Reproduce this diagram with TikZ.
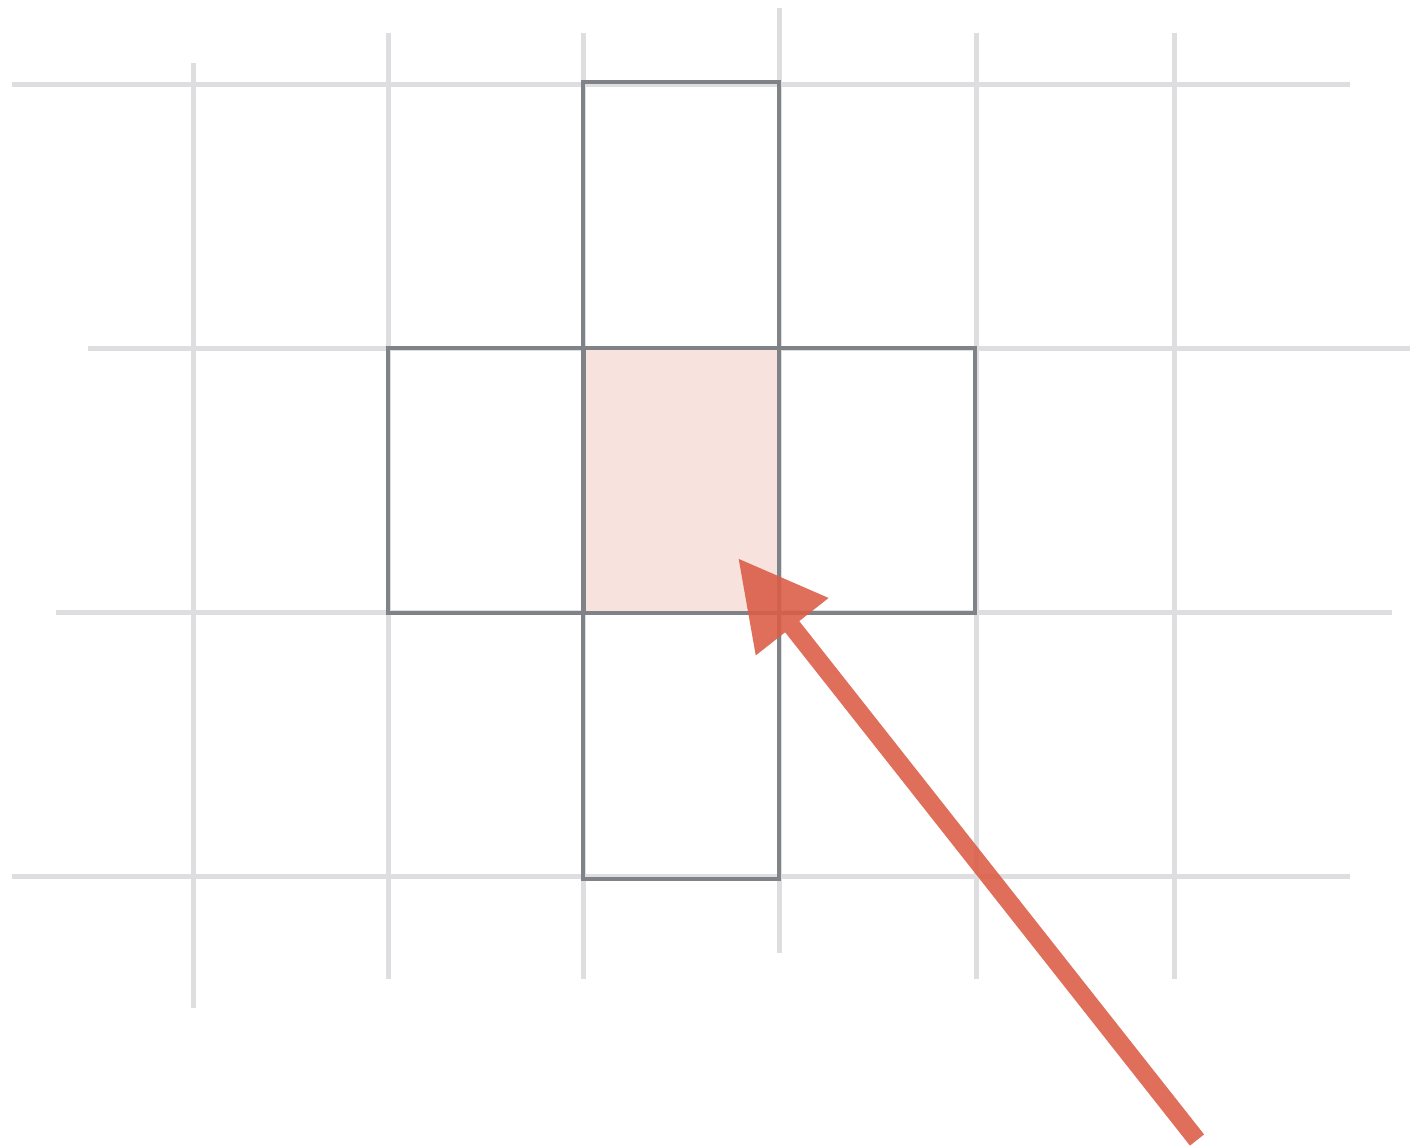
\documentclass[tikz,border=0pt]{standalone}
\usetikzlibrary{arrows.meta}
\definecolor{gridgray}{HTML}{DEDEE0}
\definecolor{boxgray}{HTML}{7F8287}
\definecolor{cellpink}{HTML}{F7E2DE}
\definecolor{arrowred}{HTML}{DB5E48}
\begin{document}
\begin{tikzpicture}[x=0.02cm,y=-0.02cm,
  gridline/.style={draw=gridgray,line width=0.1cm},
  cell/.style={draw=boxgray,line width=0.09cm,minimum width=3.92cm,minimum height=5.3cm,inner sep=0pt,outer sep=0pt,anchor=north west},
  pointer/.style={draw=arrowred,line width=0.36cm,-{Triangle[length=1.75cm,width=1.75cm]}}]
\useasboundingbox (0,0) rectangle (1411,1147);
% grid
\draw[gridline] (12,84) -- (1350,84);
\draw[gridline] (88,348) -- (1410,348);
\draw[gridline] (56,612) -- (1392,612);
\draw[gridline] (12,876) -- (1350,876);
\draw[gridline] (193,63) -- (193,1008);
\draw[gridline] (388,33) -- (388,979);
\draw[gridline] (583,33) -- (583,979);
\draw[gridline] (779,8) -- (779,953);
\draw[gridline] (976,33) -- (976,979);
\draw[gridline] (1174,33) -- (1174,979);
% cross of cells
\node[cell,fill=cellpink] (center) at (583,348) {};
\node[cell,minimum height=5.32cm] (top) at (583,82) {};
\node[cell] (left) at (388,348) {};
\node[cell] (right) at (779,348) {};
\node[cell,minimum height=5.32cm] (bottom) at (583,613) {};
% arrow
\coordinate (tail) at (1197,1140);
\coordinate (tip) at (738,558);
\begin{scope}[transparency group,opacity=0.9]
\draw[pointer] (tail) -- (tip);
\end{scope}
\end{tikzpicture}
\end{document}
